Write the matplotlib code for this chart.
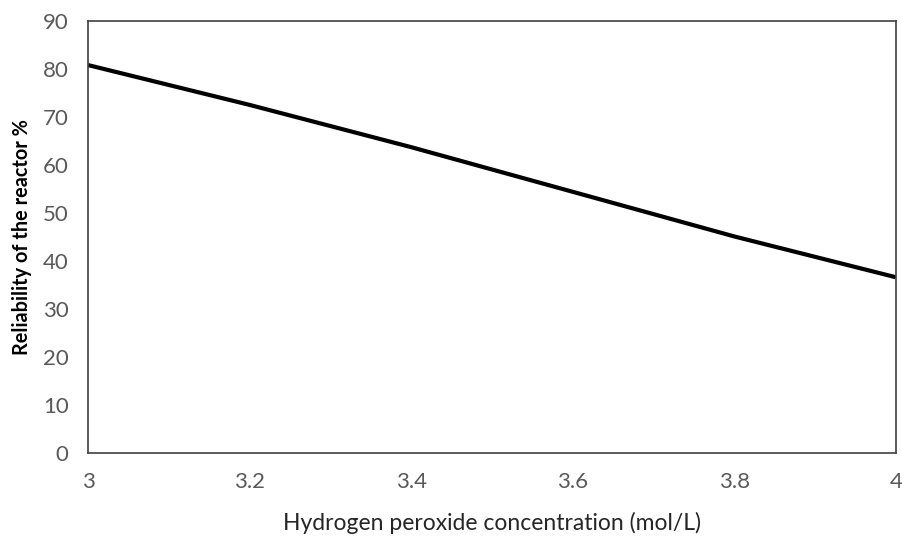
import matplotlib
matplotlib.use("Agg")
import matplotlib.pyplot as plt

# hydrogen peroxide concentration (mol/L) and reactor reliability (%)
concentration = [3.0, 3.2, 3.4, 3.6, 3.8, 4.0]
reliability = [80.8, 72.5, 63.7, 54.4, 45.1, 36.6]

x_ticks = [3, 3.2, 3.4, 3.6, 3.8, 4]
x_tick_labels = ["3", "3.2", "3.4", "3.6", "3.8", "4"]
y_ticks = [0, 10, 20, 30, 40, 50, 60, 70, 80, 90]

plt.rcParams['font.family'] = ['Lato', 'DejaVu Sans']

fig = plt.figure(figsize=(9.03, 5.36), dpi=100)
ax = fig.add_axes([0.0975, 0.155, 0.8945, 0.806])

ax.plot(concentration, reliability, color='black', linewidth=3, solid_capstyle='butt')

ax.set_xlim(3, 4)
ax.set_ylim(0, 90)
ax.set_xticks(x_ticks)
ax.set_xticklabels(x_tick_labels)
ax.set_yticks(y_ticks)
ax.tick_params(axis='both', length=0, labelsize=16, labelcolor='#595959')
ax.tick_params(axis='x', pad=14)
ax.tick_params(axis='y', pad=14)

for side in ax.spines.values():
    side.set_color('#404040')
    side.set_linewidth(1.2)

ax.set_xlabel('Hydrogen peroxide concentration (mol/L)', fontsize=16.5, color='#262626', labelpad=14)
ax.set_ylabel('Reliability of the reactor %', fontsize=14.3, fontweight='bold', color='black', labelpad=8)

fig.savefig('out.png', dpi=100)
